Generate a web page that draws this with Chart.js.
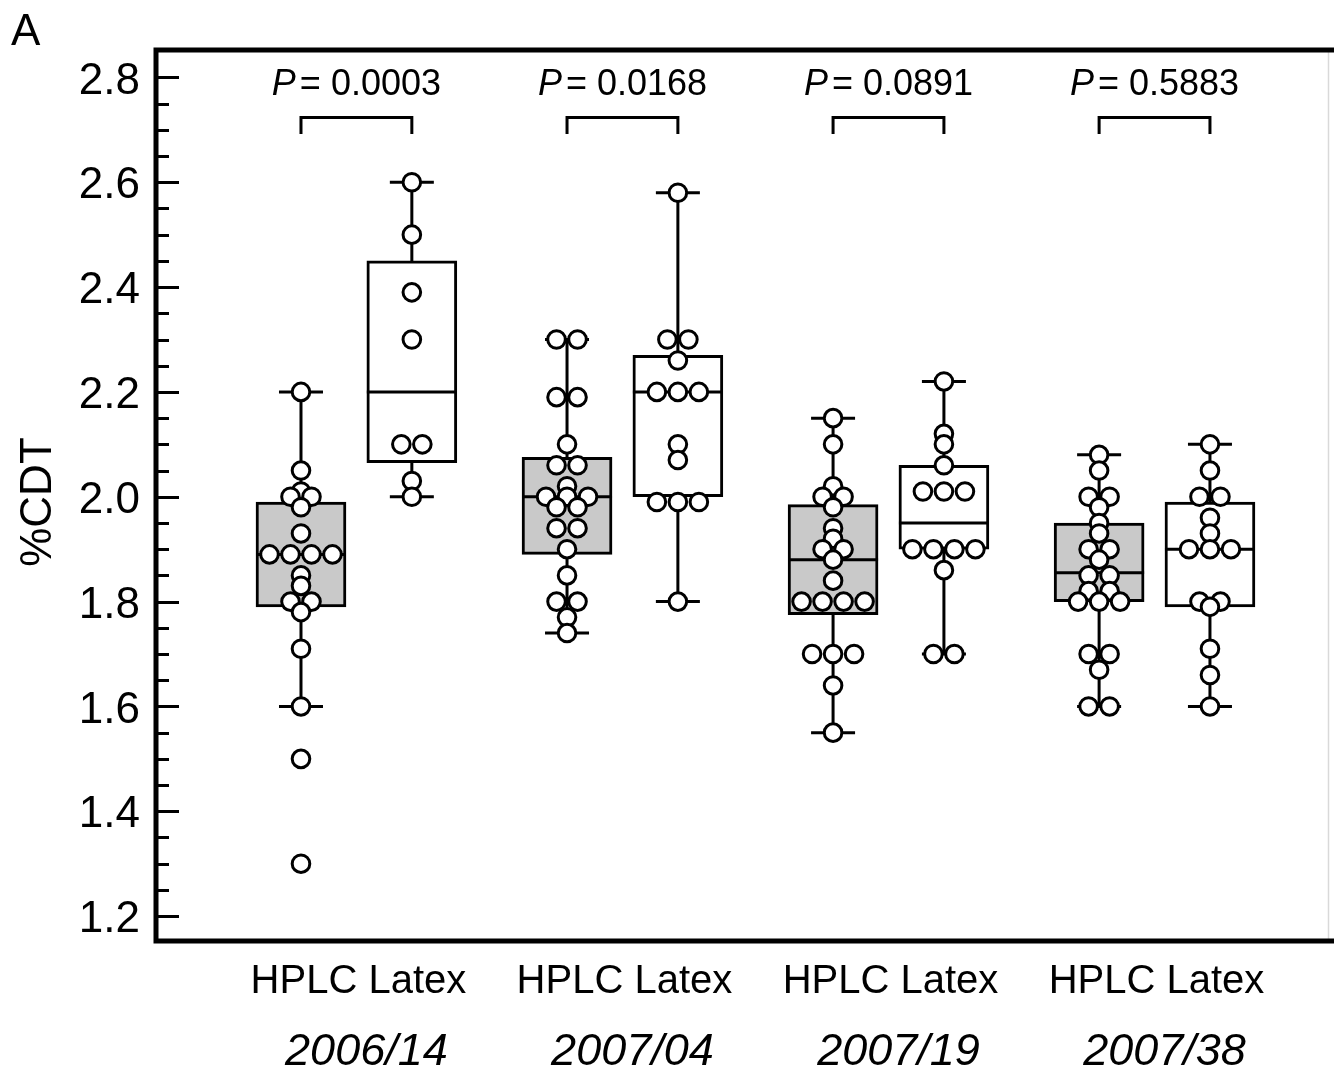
<!DOCTYPE html>
<html>
<head>
<meta charset="utf-8">
<script src="https://cdn.jsdelivr.net/npm/chart.js@4.4.1/dist/chart.umd.min.js"></script>
<style>
html,body{margin:0;padding:0;background:#fff;}
#wrap{width:1334px;height:1070px;position:relative;overflow:hidden;}
canvas{display:block;}
</style>
</head>
<body>
<div id="wrap"><canvas id="c" width="1334" height="1070"></canvas></div>
<script>
// ---------------- data ----------------
const years = ['2006/14', '2007/04', '2007/19', '2007/38'];
const methods = ['HPLC', 'Latex'];
const pValues = ['0.0003', '0.0168', '0.0891', '0.5883'];
const yTickValues = [1.2, 1.4, 1.6, 1.8, 2.0, 2.2, 2.4, 2.6, 2.8];
const yAxisTitle = '%CDT';
const panelLabel = 'A';

const hplcValues = [
  [2.20, 2.05, 2.01, 2.00, 2.00, 1.98, 1.93, 1.89, 1.89, 1.89, 1.89, 1.85, 1.83, 1.80, 1.80, 1.78, 1.71, 1.60, 1.50, 1.30],
  [2.30, 2.30, 2.19, 2.19, 2.10, 2.06, 2.06, 2.02, 2.00, 2.00, 2.00, 1.98, 1.98, 1.94, 1.94, 1.90, 1.85, 1.80, 1.80, 1.77, 1.74],
  [2.15, 2.10, 2.02, 2.00, 2.00, 1.98, 1.94, 1.92, 1.90, 1.90, 1.88, 1.84, 1.80, 1.80, 1.80, 1.80, 1.70, 1.70, 1.70, 1.64, 1.55],
  [2.08, 2.05, 2.00, 2.00, 1.98, 1.95, 1.93, 1.90, 1.90, 1.88, 1.85, 1.85, 1.82, 1.82, 1.80, 1.80, 1.80, 1.70, 1.70, 1.67, 1.60, 1.60]
];
const latexValues = [
  [2.60, 2.50, 2.39, 2.30, 2.10, 2.10, 2.03, 2.00],
  [2.58, 2.30, 2.30, 2.26, 2.20, 2.20, 2.20, 2.10, 2.07, 1.99, 1.99, 1.99, 1.80],
  [2.22, 2.12, 2.10, 2.06, 2.01, 2.01, 2.01, 1.90, 1.90, 1.90, 1.90, 1.86, 1.70, 1.70],
  [2.10, 2.05, 2.00, 2.00, 1.96, 1.93, 1.90, 1.90, 1.90, 1.80, 1.80, 1.79, 1.71, 1.66, 1.60]
];

// box statistics
const hplcQ1 = [1.79, 1.89, 1.775, 1.80];
const hplcMedian = [1.89, 2.00, 1.88, 1.855];
const hplcQ3 = [1.99, 2.075, 1.985, 1.95];
const hplcLow = [1.60, 1.74, 1.55, 1.60];
const hplcHigh = [2.20, 2.30, 2.15, 2.08];

const latexQ1 = [2.065, 2.00, 1.90, 1.79];
const latexMedian = [2.20, 2.20, 1.95, 1.90];
const latexQ3 = [2.45, 2.27, 2.06, 1.99];
const latexLow = [2.00, 1.80, 1.70, 1.60];
const latexHigh = [2.60, 2.58, 2.22, 2.10];

// ---------------- layout ----------------
const FONT = "'Liberation Sans', Arial, Helvetica, sans-serif";
const W = 1334, H = 1070;
const AREA_LEFT = 156, AREA_TOP = 50, AREA_BOTTOM = 941, AREA_RIGHT = 1334;
const XMIN = -1.308, XMAX = 9.319;
const YMIN = 1.1525, YMAX = 2.8523;
const GROUP_STEP = 2.4;
const PX_PER_UNIT = (AREA_RIGHT - AREA_LEFT) / (XMAX - XMIN);
const SWARM_DX = 21 / PX_PER_UNIT;
const BOX_W = 90, CAP = 22;

// build boxes
const boxes = [];
for (let g = 0; g < years.length; g++) {
  boxes.push({ x: g * GROUP_STEP, vals: hplcValues[g], q1: hplcQ1[g], med: hplcMedian[g], q3: hplcQ3[g], lo: hplcLow[g], hi: hplcHigh[g], fill: '#c9c9c9' });
  boxes.push({ x: g * GROUP_STEP + 1, vals: latexValues[g], q1: latexQ1[g], med: latexMedian[g], q3: latexQ3[g], lo: latexLow[g], hi: latexHigh[g], fill: '#ffffff' });
}

// swarm points: equal values are spread side by side, centred on the box
const points = [];
boxes.forEach(b => {
  const counts = {};
  b.vals.forEach(v => { const k = v.toFixed(3); counts[k] = (counts[k] || 0) + 1; });
  const seen = {};
  b.vals.forEach(v => {
    const k = v.toFixed(3);
    const n = counts[k];
    const i = seen[k] || 0; seen[k] = i + 1;
    points.push({ x: b.x + (i - (n - 1) / 2) * SWARM_DX, y: v });
  });
});

const boxData = boxes.map(b => ({ x: b.x, y: [b.q1, b.q3] }));

// ---------------- plugin ----------------
const boxPlugin = {
  id: 'boxPlugin',
  beforeDatasetsDraw(chart) {
    const { ctx, scales: { x, y } } = chart;
    ctx.save();
    ctx.strokeStyle = '#000';
    ctx.lineWidth = 3;
    boxes.forEach(b => {
      const px = x.getPixelForValue(b.x);
      const yl = y.getPixelForValue(b.lo), yh = y.getPixelForValue(b.hi);
      ctx.beginPath();
      ctx.moveTo(px, yl); ctx.lineTo(px, yh);
      ctx.moveTo(px - CAP, yl); ctx.lineTo(px + CAP, yl);
      ctx.moveTo(px - CAP, yh); ctx.lineTo(px + CAP, yh);
      ctx.stroke();
    });
    ctx.restore();
  },
  afterDatasetDraw(chart, args) {
    if (args.index !== 1) return;
    const { ctx, scales: { y } } = chart;
    ctx.save();
    ctx.strokeStyle = '#000';
    ctx.lineWidth = 3;
    args.meta.data.forEach((el, i) => {
      const py = y.getPixelForValue(boxes[i].med);
      const w = el.width;
      ctx.beginPath();
      ctx.moveTo(el.x - w / 2, py); ctx.lineTo(el.x + w / 2, py);
      ctx.stroke();
    });
    ctx.restore();
  },
  afterDraw(chart) {
    const { ctx, chartArea: a, scales: { x, y } } = chart;
    ctx.save();
    ctx.strokeStyle = '#000';
    ctx.fillStyle = '#000';
    // faint right frame
    ctx.strokeStyle = '#d9d9d9';
    ctx.lineWidth = 1.5;
    ctx.beginPath(); ctx.moveTo(1328.5, a.top); ctx.lineTo(1328.5, a.bottom); ctx.stroke();
    ctx.strokeStyle = '#000';
    // frame
    ctx.lineWidth = 5;
    ctx.beginPath();
    ctx.moveTo(a.left, a.top - 2.5); ctx.lineTo(a.left, a.bottom + 2.5);
    ctx.moveTo(a.left - 2.5, a.bottom); ctx.lineTo(a.right, a.bottom);
    ctx.moveTo(a.left - 2.5, a.top); ctx.lineTo(a.right, a.top);
    ctx.stroke();
    // inward ticks
    ctx.lineWidth = 3;
    ctx.beginPath();
    for (let k = 0; k <= 32; k++) {
      const v = 1.2 + k * 0.05;
      const py = Math.round(y.getPixelForValue(v)) + 0.5;
      const major = k % 4 === 0;
      ctx.moveTo(a.left, py); ctx.lineTo(a.left + (major ? 23 : 13), py);
    }
    ctx.stroke();
    // P values and brackets
    for (let g = 0; g < years.length; g++) {
      const xl = x.getPixelForValue(g * GROUP_STEP);
      const xr = x.getPixelForValue(g * GROUP_STEP + 1);
      const cx = (xl + xr) / 2;
      ctx.font = 'italic 36px ' + FONT;
      const wP = ctx.measureText('P').width;
      ctx.font = '36px ' + FONT;
      const rest = '= ' + pValues[g];
      const wR = ctx.measureText(rest).width;
      const gap = 4;
      const start = cx - (wP + gap + wR) / 2;
      ctx.textAlign = 'left'; ctx.textBaseline = 'alphabetic';
      ctx.font = 'italic 36px ' + FONT;
      ctx.fillText('P', start, 95);
      ctx.font = '36px ' + FONT;
      ctx.fillText(rest, start + wP + gap, 95);
      ctx.lineWidth = 3;
      ctx.beginPath();
      ctx.moveTo(xl, 134); ctx.lineTo(xl, 117.5); ctx.lineTo(xr, 117.5); ctx.lineTo(xr, 134);
      ctx.stroke();
      // category labels
      ctx.textAlign = 'center';
      ctx.font = '40px ' + FONT;
      ctx.fillText(methods[0] + ' ' + methods[1], cx + 2, 993);
      ctx.font = 'italic 45px ' + FONT;
      ctx.fillText(years[g], cx + 10, 1065);
    }
    // y axis title
    ctx.save();
    ctx.translate(37, 502);
    ctx.rotate(-Math.PI / 2);
    ctx.font = '44px ' + FONT;
    ctx.textAlign = 'center';
    ctx.textBaseline = 'middle';
    ctx.fillText(yAxisTitle, 0, 2);
    ctx.restore();
    // panel letter
    ctx.textAlign = 'left';
    ctx.textBaseline = 'alphabetic';
    ctx.font = '44px ' + FONT;
    ctx.fillText(panelLabel, 11, 45);
    ctx.restore();
  }
};

// ---------------- chart ----------------
new Chart(document.getElementById('c'), {
  type: 'scatter',
  data: {
    datasets: [
      {
        type: 'scatter',
        label: 'values',
        data: points,
        order: 0,
        pointRadius: 8.8,
        pointBorderWidth: 3,
        pointBackgroundColor: '#ffffff',
        pointBorderColor: '#000000',
        pointHoverRadius: 8.8
      },
      {
        type: 'bar',
        label: 'boxes',
        data: boxData,
        order: 1,
        backgroundColor: boxes.map(b => b.fill),
        borderColor: '#000000',
        borderWidth: 3,
        borderSkipped: false,
        barThickness: BOX_W,
        grouped: false
      }
    ]
  },
  options: {
    responsive: false,
    animation: false,
    events: [],
    devicePixelRatio: 1,
    layout: { autoPadding: false, padding: { top: AREA_TOP, bottom: H - AREA_BOTTOM, left: 0, right: 0 } },
    plugins: { legend: { display: false }, tooltip: { enabled: false } },
    scales: {
      x: { type: 'linear', min: XMIN, max: XMAX, offset: false, display: false, grid: { offset: false } },
      y: {
        type: 'linear', min: YMIN, max: YMAX,
        afterBuildTicks: s => { s.ticks = yTickValues.map(v => ({ value: v })); },
        afterFit: s => { s.width = AREA_LEFT; },
        grid: { display: false, drawTicks: false },
        border: { display: false },
        ticks: {
          autoSkip: false,
          padding: 16,
          labelOffset: 4,
          color: '#000',
          font: { family: FONT, size: 44 },
          callback: v => Number(v).toFixed(1)
        }
      }
    }
  },
  plugins: [boxPlugin]
});
</script>
</body>
</html>
